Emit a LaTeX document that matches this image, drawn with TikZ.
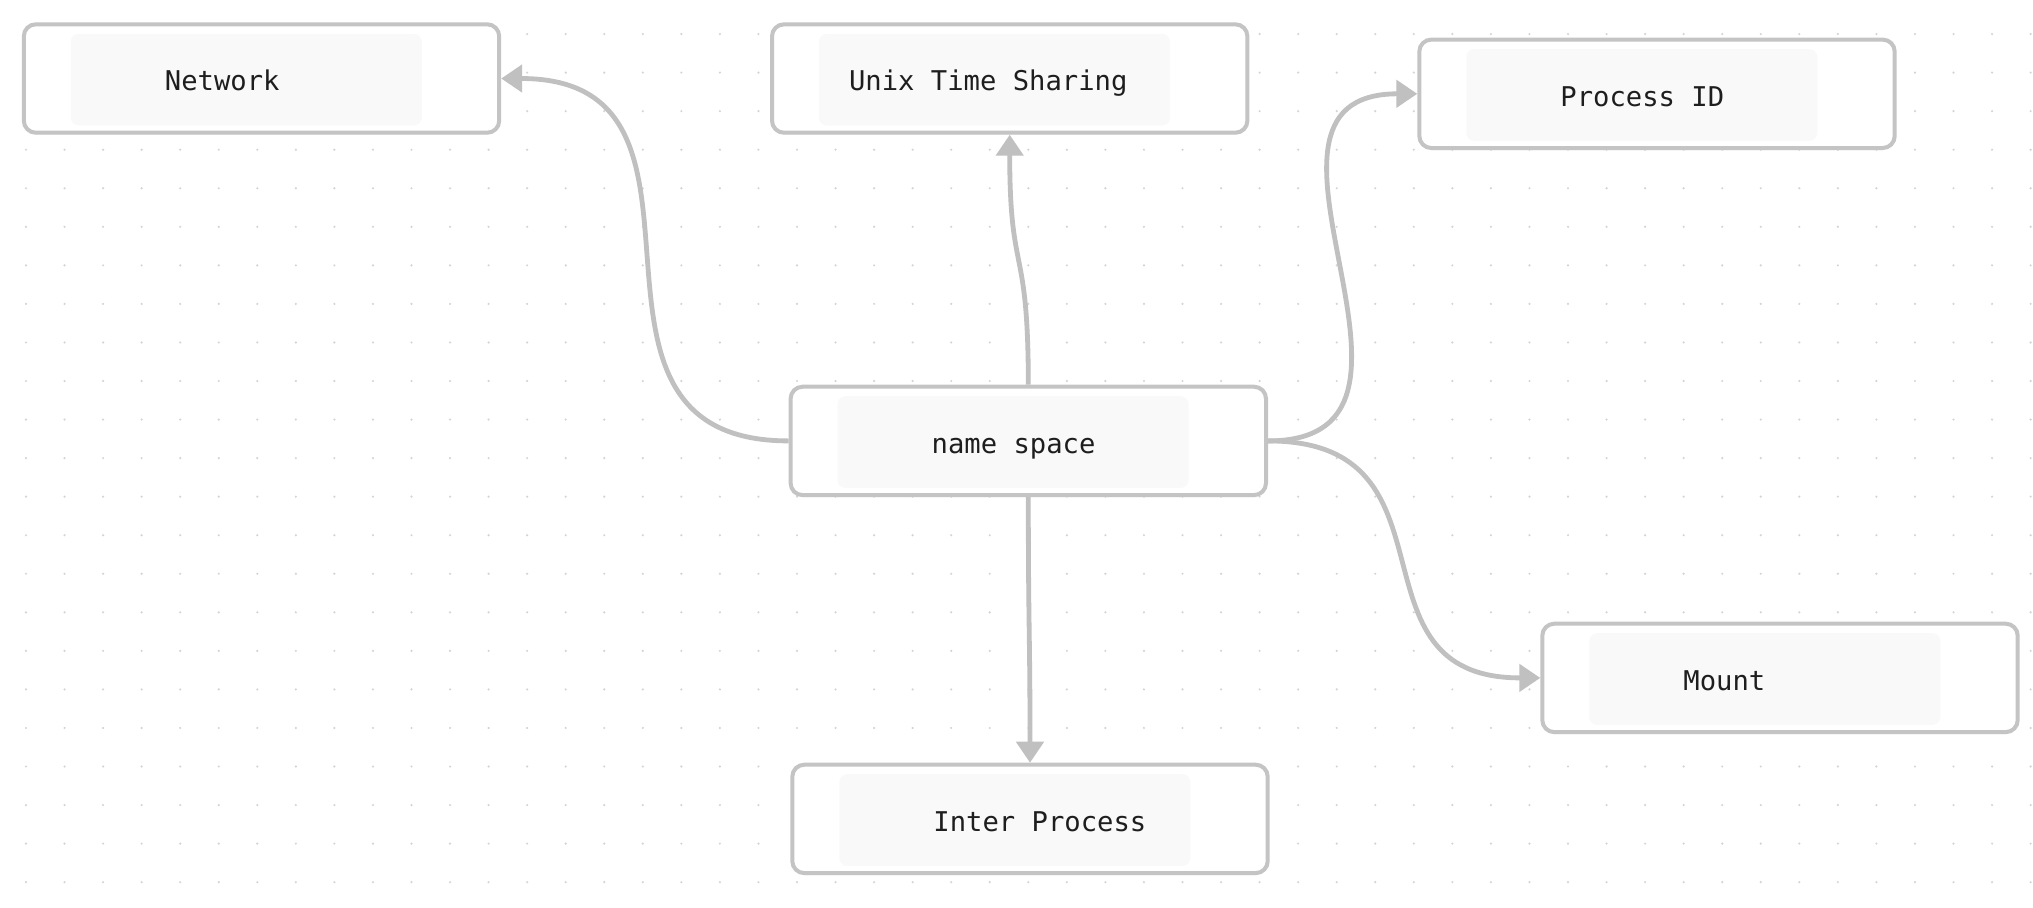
\documentclass[tikz,border=0pt]{standalone}
\usepackage{fontspec}
\setmonofont{DejaVu Sans Mono}
\usetikzlibrary{arrows.meta, shadows}
\definecolor{edgegray}{HTML}{C0C0C0}
\definecolor{boxgray}{HTML}{C4C4C4}
\definecolor{padgray}{HTML}{F9F9F9}
\definecolor{dotgray}{HTML}{D4D4D4}
\definecolor{inkgray}{HTML}{1E1E1E}

\begin{document}
\begin{tikzpicture}[x=0.5pt, y=-0.5pt]

\tikzset{box/.style = {shape=rectangle, draw=boxgray, fill=white, line width=2pt, rounded corners=6pt, minimum width=237.7pt, minimum height=54.2pt, inner sep=0pt, drop shadow={shadow xshift=0pt, shadow yshift=-1pt, opacity=0.12}}}
\tikzset{pad/.style = {fill=padgray, rounded corners=4pt}}
\tikzset{word/.style = {anchor=base west, inner sep=0pt, text=inkgray, font=\fontsize{13.6pt}{16pt}\ttfamily}}
\tikzset{edge/.style = {draw=edgegray, line width=2.4pt, -{Triangle[length=10.5pt, width=13.5pt]}}}
%background
\fill[white] (0,0) rectangle (2033,907);
\useasboundingbox (0,0) rectangle (2033,907);
\foreach \i in {0,...,52}
  \foreach \j in {0,...,22}
    \fill[dotgray] (26+38.55*\i, 34.05+38.55*\j) circle (0.6pt);
%boxes
\node[box] (net) at (261.5,78.5) {};
\node[box] (uts) at (1009.7,78.5) {};
\node[box] (pid) at (1657,93.8) {};
\node[box] (ns) at (1028.3,440.9) {};
\node[box] (mnt) at (1780,677.9) {};
\node[box] (ipc) at (1030,818.9) {};
\foreach \b in {net,uts,pid,ns,mnt,ipc}
  \fill[pad] (\b.center) ++(-190.7,-44.7) rectangle ++(351,91.7);
%labels
\node[word] (net-l) at ([shift={(-97,12.2)}]net.center) {Network};
\node[word] (uts-l) at ([shift={(-161,12.2)}]uts.center) {Unix Time Sharing};
\node[word] (pid-l) at ([shift={(-97,12.2)}]pid.center) {Process ID};
\node[word] (ns-l) at ([shift={(-97,12.2)}]ns.center) {name space};
\node[word] (mnt-l) at ([shift={(-97,12.2)}]mnt.center) {Mount};
\node[word] (ipc-l) at ([shift={(-97,12.2)}]ipc.center) {Inter Process};
%edges
\draw[edge] (ns.west) .. controls +(-250,0) and +(250,0) .. (net.east);
\draw[edge] (ns.north) .. controls +(0,-145) and +(0,145) .. (uts.south);
\draw[edge] (ns.east) .. controls +(205,0) and +(-205,0) .. (pid.west);
\draw[edge] (ns.east) .. controls +(200,0) and +(-200,0) .. (mnt.west);
\draw[edge] (ns.south) .. controls +(0,130) and +(0,-130) .. (ipc.north);

\end{tikzpicture}
\end{document}
